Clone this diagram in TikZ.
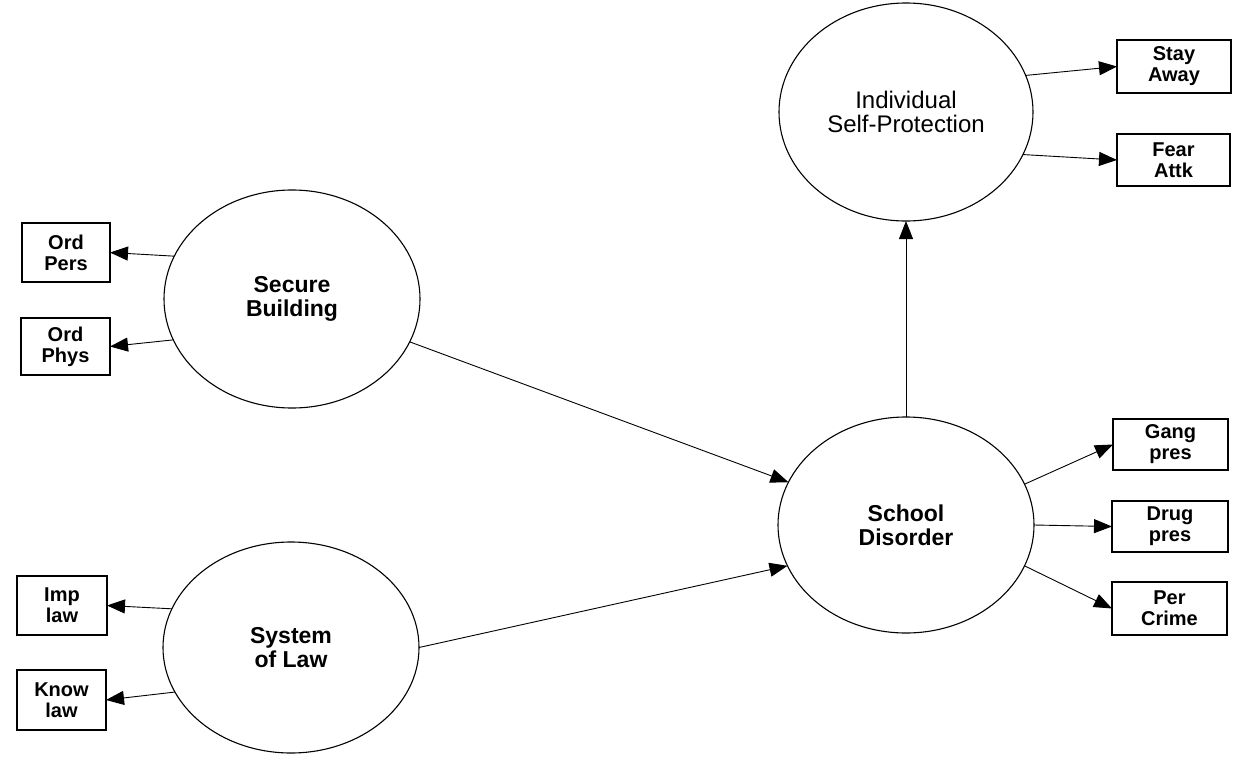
\documentclass[tikz,border=0pt]{standalone}
\usepackage{fontspec}
\setmainfont{Liberation Sans}
\usetikzlibrary{shapes.geometric,arrows.meta}
\begin{document}
\begin{tikzpicture}[x=1pt,y=-1pt,
  lat/.style={ellipse,draw,line width=1.1pt,inner sep=0pt,outer sep=0pt,align=center,
    font=\fontsize{23}{24}\selectfont\bfseries},
  ind/.style={rectangle,draw,line width=1.2pt,inner sep=0pt,outer sep=0pt,align=center,
    font=\fontsize{20}{21}\selectfont\bfseries},
  arr/.style={line width=0.9pt,-{Triangle[length=18pt,width=14pt]}}]
\useasboundingbox (0,0) rectangle (1243,766);
% latent variables
\node[lat,minimum width=256pt,minimum height=218pt] (sb) at (292,299) {Secure\\Building};
\node[lat,minimum width=256pt,minimum height=211pt] (sl) at (291,647.5) {System\\of Law};
\node[lat,minimum width=256pt,minimum height=216pt] (sd) at (906,525) {School\\Disorder};
\node[lat,minimum width=254pt,minimum height=218pt,font=\fontsize{24}{24}\selectfont\mdseries] (isp) at (906,112) {Individual\\Self-Protection};
% indicators
\node[ind,minimum width=88pt,minimum height=59pt] (op) at (66,252.5) {Ord\\Pers};
\node[ind,minimum width=89pt,minimum height=57pt] (oph) at (65.5,346.5) {Ord\\Phys};
\node[ind,minimum width=90pt,minimum height=59pt] (il) at (62,605.5) {Imp\\law};
\node[ind,minimum width=89pt,minimum height=60pt] (kl) at (61.5,700) {Know\\law};
\node[ind,minimum width=114pt,minimum height=53pt] (sa) at (1174,66.5) {Stay\\Away};
\node[ind,minimum width=113pt,minimum height=52pt] (fa) at (1173.5,160) {Fear\\Attk};
\node[ind,minimum width=115pt,minimum height=51pt] (gp) at (1170.5,444.5) {Gang\\pres};
\node[ind,minimum width=116pt,minimum height=51pt] (dp) at (1170,526.5) {Drug\\pres};
\node[ind,minimum width=115pt,minimum height=53pt] (pc) at (1169.5,608.5) {Per\\Crime};
% connectors
\draw[arr] (sb.160.7) -- (op.east);
\draw[arr] (sb.199) -- (oph.east);
\draw[arr] (sl.162.7) -- (il.east);
\draw[arr] (sl.201) -- (kl.east);
\draw[arr] (isp.17.7) -- (sa.west);
\draw[arr] (isp.-20.6) -- (fa.west);
\draw[arr] (sd.19.9) -- (gp.west);
\draw[arr] (sd.0) -- (dp.west);
\draw[arr] (sd.-19.4) -- (pc.west);
\draw[arr] (sd.north) -- (isp.south);
\draw[arr] (sb.-20) -- (sd.160.4);
\draw[arr] (sl.0) -- (sd.199);
\end{tikzpicture}
\end{document}
